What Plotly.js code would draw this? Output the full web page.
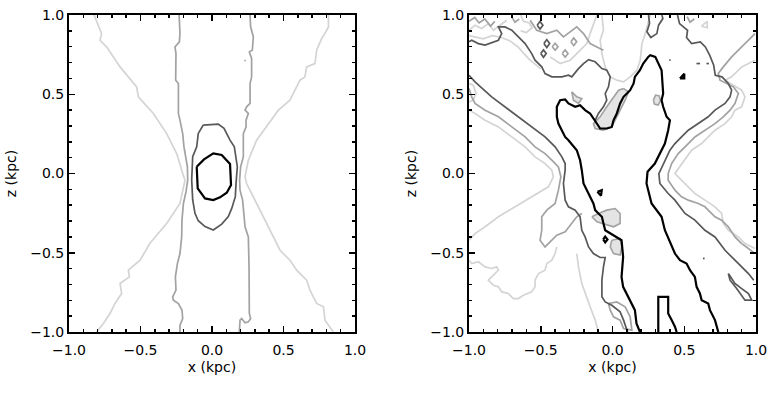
<!DOCTYPE html>
<html>
<head>
<meta charset="utf-8">
<script src="https://cdn.plot.ly/plotly-3.0.1.min.js"></script>
<style>
  html, body { margin: 0; padding: 0; background: #fff; }
  #chart { width: 777px; height: 396px; }
</style>
</head>
<body>
<div id="chart"></div>
<script>
// contour levels, darkest to lightest
const BLACK = '#000000';
const DARK = '#585858';
const MID = '#a2a2a2';
const LIGHT = '#d4d4d4';

// ---- left panel: [x, z] in kpc ----
const leftBlack = [[-0.107,0.043],[-0.056,0.089],[0.009,0.127],[0.068,0.117],[0.126,0.060],[0.133,-0.073],
  [0.103,-0.121],[0.056,-0.150],[0.009,-0.167],[-0.049,-0.157],[-0.100,-0.094],[-0.107,0.043]];
const leftDark = [[-0.061,0.306],[0.044,0.312],[0.084,0.285],[0.126,0.211],[0.156,0.169],[0.168,0.106],
  [0.177,0.043],[0.168,-0.062],[0.163,-0.146],[0.138,-0.220],[0.114,-0.272],[0.068,-0.319],[0.009,-0.356],
  [-0.049,-0.335],[-0.096,-0.298],[-0.119,-0.251],[-0.135,-0.167],[-0.142,-0.041],[-0.135,0.106],
  [-0.107,0.169],[-0.096,0.253],[-0.061,0.306]];
const leftMidL = [[-0.23,1.0],[-0.224,0.884],[-0.228,0.831],[-0.259,0.799],[-0.252,0.757],[-0.254,0.589],
  [-0.235,0.568],[-0.235,0.379],[-0.224,0.337],[-0.205,0.252],[-0.196,0.168],[-0.182,0.105],[-0.172,0.042],
  [-0.170,-0.042],[-0.182,-0.116],[-0.200,-0.189],[-0.210,-0.294],[-0.212,-0.400],[-0.224,-0.505],
  [-0.242,-0.568],[-0.256,-0.652],[-0.252,-0.736],[-0.275,-0.778],[-0.270,-0.799],[-0.235,-0.820],
  [-0.210,-0.862],[-0.205,-0.915],[-0.224,-0.957],[-0.224,-1.0]];
const leftMidR = [[0.266,1.0],[0.270,0.926],[0.289,0.862],[0.282,0.778],[0.261,0.768],[0.277,0.726],
  [0.277,0.610],[0.266,0.568],[0.266,0.442],[0.242,0.421],[0.231,0.400],[0.254,0.379],[0.238,0.337],
  [0.238,0.295],[0.219,0.252],[0.219,0.105],[0.200,0.042],[0.193,-0.042],[0.196,-0.105],[0.214,-0.168],
  [0.231,-0.336],[0.254,-0.400],[0.259,-0.589],[0.261,-0.883],[0.270,-0.915],[0.254,-0.936],[0.231,-0.942],
  [0.207,-0.915],[0.196,-0.925],[0.191,-1.0]];
const leftMidDot = [[0.226,0.715],[0.236,0.712]];
const leftLightL = [[-0.825,1.0],[-0.807,0.957],[-0.772,0.883],[-0.783,0.841],[-0.737,0.799],[-0.643,0.673],
  [-0.527,0.547],[-0.515,0.484],[-0.410,0.379],[-0.317,0.252],[-0.247,0.126],[-0.212,0.021],[-0.189,-0.042],
  [-0.224,-0.189],[-0.317,-0.315],[-0.434,-0.440],[-0.503,-0.547],[-0.585,-0.610],[-0.578,-0.652],
  [-0.643,-0.694],[-0.632,-0.757],[-0.678,-0.820],[-0.713,-0.883],[-0.760,-0.946],[-0.807,-1.0]];
const leftLightR = [[0.814,1.0],[0.814,0.925],[0.790,0.884],[0.767,0.852],[0.732,0.778],[0.720,0.694],
  [0.662,0.673],[0.650,0.610],[0.615,0.589],[0.545,0.463],[0.464,0.400],[0.382,0.294],[0.312,0.210],
  [0.254,0.084],[0.231,-0.021],[0.242,-0.063],[0.312,-0.189],[0.406,-0.358],[0.476,-0.484],[0.545,-0.547],
  [0.592,-0.610],[0.662,-0.673],[0.685,-0.736],[0.732,-0.820],[0.779,-0.841],[0.790,-0.925],[0.825,-0.967],
  [0.848,-1.0]];

// ---- right panel: [x, z] in kpc ----
const rBlackMain = [[0.191,-1.0],[0.167,-0.946],[0.156,-0.862],[0.109,-0.778],[0.074,-0.715],[0.063,-0.652],
  [0.074,-0.526],[0.063,-0.421],[-0.007,-0.379],[-0.051,-0.358],[-0.063,-0.315],[-0.074,-0.273],[-0.098,-0.252],
  [-0.121,-0.231],[-0.133,-0.189],[-0.167,-0.126],[-0.202,-0.063],[-0.214,0.021],[-0.226,0.084],[-0.249,0.147],
  [-0.284,0.189],[-0.307,0.210],[-0.330,0.231],[-0.353,0.273],[-0.377,0.315],[-0.388,0.358],[-0.388,0.421],
  [-0.365,0.463],[-0.330,0.467],[-0.307,0.442],[-0.260,0.421],[-0.226,0.431],[-0.191,0.400],[-0.156,0.379],
  [-0.133,0.347],[-0.109,0.315],[-0.086,0.284],[-0.040,0.284],[-0.005,0.294],[0.007,0.336],[0.030,0.379],
  [0.053,0.442],[0.077,0.484],[0.100,0.505],[0.123,0.526],[0.147,0.568],[0.156,0.610],[0.191,0.652],
  [0.214,0.694],[0.249,0.736],[0.263,0.747],[0.298,0.736],[0.319,0.694],[0.342,0.652],[0.353,0.505],
  [0.342,0.463],[0.353,0.421],[0.377,0.358],[0.400,0.336],[0.388,0.273],[0.365,0.189],[0.330,0.126],
  [0.295,0.063],[0.244,0.011],[0.237,-0.063],[0.272,-0.189],[0.342,-0.273],[0.365,-0.358],[0.412,-0.463],
  [0.435,-0.505],[0.470,-0.547],[0.516,-0.568],[0.540,-0.610],[0.574,-0.652],[0.586,-0.715],[0.609,-0.757],
  [0.621,-0.799],[0.667,-0.820],[0.679,-0.862],[0.714,-0.925],[0.737,-1.0]];
const rBlackU = [[0.319,-1.0],[0.319,-0.778],[0.388,-0.778],[0.388,-0.883],[0.412,-0.925],[0.435,-0.967],[0.447,-1.0]];
const rBlackTri = [[-0.105,-0.115],[-0.075,-0.105],[-0.080,-0.140],[-0.105,-0.115]];
const rBlackDiamond = [[-0.065,-0.416],[-0.051,-0.398],[-0.035,-0.416],[-0.051,-0.435],[-0.065,-0.416]];
const rBlackSpeck = [[0.47,0.600],[0.50,0.630],[0.50,0.600],[0.47,0.600]];

const rDarkTopA = [[0.251,1.0],[0.258,0.947],[0.240,0.894],[0.267,0.858],[0.309,0.883],[0.321,0.936],[0.351,0.978],[0.344,1.0]];
const rDarkRight = [[0.453,1.0],[0.467,0.946],[0.523,0.904],[0.516,0.858],[0.551,0.820],[0.612,0.831],[0.647,0.799],
  [0.677,0.747],[0.705,0.683],[0.716,0.620],[0.763,0.610],[0.807,0.568],[0.830,0.526],[0.819,0.484],[0.784,0.442],
  [0.714,0.400],[0.667,0.358],[0.598,0.315],[0.528,0.273],[0.481,0.231],[0.435,0.189],[0.400,0.147],[0.377,0.105],
  [0.353,0.063],[0.323,0.0],[0.330,-0.063],[0.388,-0.126],[0.435,-0.168],[0.505,-0.252],[0.574,-0.294],
  [0.644,-0.358],[0.714,-0.400],[0.784,-0.484],[0.853,-0.547],[0.900,-0.589],[0.947,-0.631],[0.984,-0.673]];
const rDarkLoop = [[0.807,-0.631],[0.853,-0.694],[0.900,-0.726],[0.947,-0.757],[0.970,-0.799],[0.923,-0.799],
  [0.865,-0.726],[0.819,-0.673],[0.807,-0.631]];
const rDarkLeft = [[-1.0,0.620],[-0.958,0.578],[-0.842,0.484],[-0.749,0.421],[-0.656,0.358],[-0.563,0.294],
  [-0.470,0.231],[-0.400,0.168],[-0.353,0.105],[-0.330,0.063],[-0.330,0.021],[-0.342,-0.063],[-0.330,-0.168],
  [-0.307,-0.210],[-0.260,-0.231],[-0.226,-0.273],[-0.214,-0.358],[-0.191,-0.400],[-0.167,-0.463],[-0.133,-0.505],
  [-0.086,-0.530],[-0.051,-0.530],[-0.063,-0.589],[-0.074,-0.673],[-0.074,-0.778],[-0.051,-0.810],[-0.005,-0.831],
  [0.053,-0.873],[0.077,-0.925],[0.105,-1.0]];
const rDarkTop = [[-1.0,0.831],[-0.981,0.841],[-0.935,0.820],[-0.888,0.810],[-0.795,0.841],[-0.772,0.883],
  [-0.795,0.925],[-0.749,0.925],[-0.702,0.904],[-0.656,0.862],[-0.609,0.820],[-0.563,0.757],[-0.540,0.715],
  [-0.493,0.673],[-0.470,0.631],[-0.423,0.610],[-0.353,0.610],[-0.307,0.620],[-0.284,0.610],[-0.237,0.662],
  [-0.202,0.694],[-0.167,0.719],[-0.121,0.705],[-0.074,0.662],[-0.040,0.652],[-0.016,0.610],[-0.028,0.547],
  [-0.051,0.505],[-0.040,0.463],[-0.063,0.421],[-0.098,0.379],[-0.121,0.336]];
const rDarkLoops = [
  [[-0.525,0.936],[-0.505,0.960],[-0.485,0.936],[-0.505,0.912],[-0.525,0.936]],
  [[-0.478,0.820],[-0.458,0.845],[-0.438,0.820],[-0.458,0.795],[-0.478,0.820]],
  [[-0.500,0.757],[-0.481,0.780],[-0.462,0.757],[-0.481,0.734],[-0.500,0.757]],
  [[0.630,-0.536],[0.642,-0.536]],
  [[0.395,0.715],[0.405,0.715]],
  [[0.585,0.694],[0.610,0.694]],
  [[0.655,0.694],[0.672,0.694]]
];

const rMidRight = [[0.993,0.883],[0.900,0.799],[0.830,0.736],[0.772,0.673],[0.737,0.631],[0.749,0.589],
  [0.842,0.547],[0.877,0.505],[0.853,0.442],[0.819,0.400],[0.772,0.358],[0.714,0.315],[0.644,0.273],
  [0.574,0.231],[0.528,0.189],[0.458,0.126],[0.412,0.063],[0.388,0.0],[0.388,-0.042],[0.435,-0.105],
  [0.481,-0.147],[0.528,-0.168],[0.598,-0.189],[0.644,-0.210],[0.667,-0.231],[0.714,-0.273],[0.760,-0.294],
  [0.807,-0.336],[0.853,-0.400],[0.900,-0.442],[0.947,-0.473],[0.993,-0.505]];
const rMidLeft = [[-1.0,0.536],[-0.981,0.484],[-0.958,0.442],[-0.888,0.400],[-0.795,0.358],[-0.702,0.294],
  [-0.609,0.231],[-0.540,0.168],[-0.470,0.126],[-0.423,0.084],[-0.377,0.042],[-0.360,-0.021],[-0.377,-0.105],
  [-0.400,-0.189],[-0.458,-0.231],[-0.493,-0.273],[-0.493,-0.358],[-0.505,-0.421],[-0.470,-0.463],
  [-0.435,-0.431],[-0.388,-0.389],[-0.330,-0.368],[-0.284,-0.315],[-0.249,-0.273],[-0.214,-0.252]];
const rMidTop = [[-0.574,0.967],[-0.528,0.904],[-0.458,0.883],[-0.388,0.904],[-0.342,0.862],[-0.295,0.894],
  [-0.249,0.925],[-0.202,0.883],[-0.156,0.820],[-0.109,0.799],[-0.063,0.778]];
const rMidTopLeft = [[-1.0,0.960],[-0.960,0.985],[-0.930,0.950],[-0.890,0.975],[-0.850,0.930],[-0.820,0.960]];
const rMidLoops = [
  [[-0.420,0.800],[-0.400,0.822],[-0.380,0.800],[-0.400,0.778],[-0.420,0.800]],
  [[-0.350,0.757],[-0.330,0.780],[-0.310,0.757],[-0.330,0.734],[-0.350,0.757]],
  [[-0.290,0.831],[-0.270,0.855],[-0.250,0.831],[-0.270,0.807],[-0.290,0.831]],
  [[-0.700,0.985],[-0.680,0.955],[-0.650,0.975]],
  [[0.520,0.990],[0.540,0.955],[0.570,0.975]]
];
const rMidBottom = [[-0.028,-0.820],[0.030,-0.810],[0.088,-0.841],[0.123,-0.904],[0.135,-0.988],[0.077,-0.978],
  [0.053,-0.925],[0.007,-0.904],[-0.016,-0.862],[-0.028,-0.820]];

const rLightRight = [[0.993,0.715],[0.900,0.673],[0.830,0.610],[0.784,0.589],[0.900,0.526],[0.923,0.484],
  [0.900,0.421],[0.853,0.400],[0.830,0.358],[0.784,0.315],[0.714,0.273],[0.621,0.189],[0.551,0.147],
  [0.481,0.063],[0.435,0.0],[0.458,-0.021],[0.505,-0.063],[0.574,-0.126],[0.644,-0.168],[0.714,-0.210],
  [0.760,-0.252],[0.772,-0.315],[0.807,-0.358],[0.877,-0.400],[0.923,-0.442],[0.993,-0.473]];
const rLightLeft = [[-1.0,0.400],[-0.958,0.379],[-0.888,0.336],[-0.795,0.294],[-0.702,0.231],[-0.609,0.168],
  [-0.540,0.105],[-0.470,0.063],[-0.423,0.021],[-0.412,-0.021],[-0.447,-0.084],[-0.563,-0.147],[-0.679,-0.210],
  [-0.795,-0.273],[-0.888,-0.336],[-0.958,-0.379],[-1.0,-0.421]];
const rLightEdge = [[-1.0,0.568],[-0.970,0.557],[-0.951,0.505],[-0.970,0.463],[-1.0,0.452]];
const rLightLow = [[-1.0,-0.547],[-0.981,-0.568],[-0.935,-0.557],[-0.888,-0.589],[-0.842,-0.599],[-0.807,-0.589],
  [-0.795,-0.610],[-0.842,-0.652],[-0.865,-0.673],[-0.830,-0.705],[-0.795,-0.715],[-0.772,-0.747],[-0.726,-0.757],
  [-0.691,-0.789],[-0.656,-0.789],[-0.621,-0.768],[-0.563,-0.747],[-0.540,-0.715],[-0.540,-0.673],[-0.516,-0.631],
  [-0.470,-0.610],[-0.458,-0.568],[-0.423,-0.547],[-0.400,-0.505],[-0.388,-0.463]];
const rLightStem = [[-0.249,-0.505],[-0.237,-0.589],[-0.214,-0.694],[-0.191,-0.757],[-0.156,-0.841],[-0.121,-0.925],[-0.098,-1.0]];
const rLightV = [[-0.074,1.0],[-0.063,0.904],[-0.086,0.841],[-0.074,0.757],[-0.051,0.673],[-0.016,0.610],
  [0.030,0.589],[0.077,0.578],[0.123,0.610],[0.170,0.652],[0.193,0.715],[0.205,0.820],[0.228,0.883],[0.251,0.967],[0.263,1.0]];
const rLightTop1 = [[-1.0,0.904],[-0.958,0.936],[-0.912,0.915],[-0.865,0.946],[-0.830,0.904],[-0.784,0.936],[-0.737,0.967]];
const rLightTop2 = [[-0.435,0.736],[-0.365,0.694],[-0.295,0.715],[-0.226,0.778],[-0.179,0.820],[-0.156,0.883],[-0.133,0.946],[-0.109,1.0]];
const rLightTop3 = [[-1.0,0.870],[-0.950,0.860],[-0.900,0.850],[-0.840,0.870],[-0.780,0.860],[-0.720,0.840],
  [-0.660,0.800],[-0.620,0.760],[-0.580,0.720],[-0.540,0.690],[-0.500,0.660]];
const rLightTop4 = [[-0.640,1.0],[-0.620,0.960],[-0.580,0.950],[-0.560,0.920],[-0.600,0.890],[-0.640,0.900]];
const rLightTri = [[0.620,0.930],[0.660,0.960],[0.660,0.920],[0.620,0.930]];

// blobs where several levels crowd together
const rBlobFinger = [[0.077,0.536],[0.112,0.515],[0.088,0.463],[0.053,0.400],[0.019,0.336],[-0.005,0.294],
  [-0.063,0.273],[-0.121,0.284],[-0.133,0.315],[-0.086,0.358],[-0.040,0.421],[0.007,0.484],[0.042,0.526],[0.077,0.536]];
const rBlobSmall = [[-0.284,0.515],[-0.249,0.484],[-0.214,0.473],[-0.237,0.442],[-0.272,0.463],[-0.284,0.515]];
const rBlobRound = [[0.285,0.463],[0.300,0.495],[0.325,0.490],[0.335,0.460],[0.318,0.432],[0.292,0.438],[0.285,0.463]];
const rBlobMid = [[-0.144,-0.273],[-0.098,-0.252],[-0.040,-0.231],[0.019,-0.221],[0.053,-0.252],[0.053,-0.315],
  [0.007,-0.336],[-0.063,-0.315],[-0.109,-0.305],[-0.144,-0.273]];
const rBlobLow = [[-0.005,-0.421],[0.053,-0.410],[0.065,-0.463],[0.053,-0.515],[0.007,-0.505],[-0.016,-0.463],[-0.005,-0.421]];

function join (lines) {
  const x = [];
  const y = [];
  lines.forEach((pts) => {
    pts.forEach((p) => { x.push(p[0]); y.push(p[1]); });
    x.push(null); y.push(null);
  });
  return { x, y };
}

function level (lines, color, width, axis) {
  const d = join(lines);
  return {
    type: 'scatter', mode: 'lines', x: d.x, y: d.y,
    xaxis: axis[0], yaxis: axis[1],
    line: { color, width, shape: 'linear' },
    connectgaps: false, hoverinfo: 'skip', showlegend: false
  };
}

function blob (pts, axis) {
  return {
    type: 'scatter', mode: 'lines', x: pts.map(p => p[0]), y: pts.map(p => p[1]),
    xaxis: axis[0], yaxis: axis[1], fill: 'toself', fillcolor: '#e4e4e4',
    line: { color: MID, width: 1.6 }, hoverinfo: 'skip', showlegend: false
  };
}

const A1 = ['x', 'y'];
const A2 = ['x2', 'y2'];

const data = [
  level([leftLightL, leftLightR], LIGHT, 1.7, A1),
  level([leftMidL, leftMidR, leftMidDot], MID, 1.7, A1),
  level([leftDark], DARK, 1.7, A1),
  level([leftBlack], BLACK, 2.2, A1),

  level([rLightRight, rLightLeft, rLightEdge, rLightLow, rLightStem, rLightV, rLightTop1, rLightTop2,
    rLightTop3, rLightTop4, rLightTri], LIGHT, 1.7, A2),
  blob(rBlobFinger, A2),
  blob(rBlobSmall, A2),
  blob(rBlobRound, A2),
  blob(rBlobMid, A2),
  blob(rBlobLow, A2),
  level([rMidRight, rMidLeft, rMidTop, rMidTopLeft, rMidBottom].concat(rMidLoops), MID, 1.7, A2),
  level([rDarkTopA, rDarkRight, rDarkLoop, rDarkLeft, rDarkTop].concat(rDarkLoops), DARK, 1.7, A2),
  level([rBlackMain, rBlackU, rBlackTri, rBlackDiamond, rBlackSpeck], BLACK, 2.2, A2)
];

const FONT = 'DejaVu Sans, Liberation Sans, Arial, sans-serif';

function xAxis (domain, anchor) {
  return {
    domain, anchor, range: [-1, 1],
    showgrid: false, zeroline: false,
    showline: true, linecolor: '#000', linewidth: 2, mirror: 'ticks',
    ticks: 'inside', ticklen: 6, tickwidth: 1.5, tickcolor: '#000',
    tick0: 0, dtick: 0.5, tickformat: '.1f', ticklabelstandoff: 4,
    minor: { dtick: 0.1, ticks: 'inside', ticklen: 3, tickwidth: 1.5, tickcolor: '#000' },
    tickfont: { family: FONT, size: 14, color: '#000' },
    title: { text: 'x (kpc)', font: { family: FONT, size: 14, color: '#000' }, standoff: 5 },
    automargin: false, fixedrange: true
  };
}

function yAxis (domain, anchor) {
  return {
    domain, anchor, range: [-1, 1],
    showgrid: false, zeroline: false,
    showline: true, linecolor: '#000', linewidth: 2, mirror: 'ticks',
    ticks: 'inside', ticklen: 6, tickwidth: 1.5, tickcolor: '#000',
    tick0: 0, dtick: 0.5, tickformat: '.1f',
    minor: { dtick: 0.1, ticks: 'inside', ticklen: 3, tickwidth: 1.5, tickcolor: '#000' },
    tickfont: { family: FONT, size: 14, color: '#000' },
    title: { text: 'z (kpc)', font: { family: FONT, size: 14, color: '#000' }, standoff: 10 },
    automargin: false, fixedrange: true
  };
}

const layout = {
  width: 777,
  height: 396,
  margin: { l: 0, r: 0, t: 0, b: 0 },
  paper_bgcolor: '#fff',
  plot_bgcolor: '#fff',
  showlegend: false,
  xaxis: xAxis([0.0888, 0.4569], 'y'),
  yaxis: yAxis([0.1616, 0.962], 'x'),
  xaxis2: xAxis([0.6036, 0.973], 'y2'),
  yaxis2: yAxis([0.1616, 0.962], 'x2')
};

Plotly.newPlot('chart', data, layout, { staticPlot: true, displayModeBar: false });
</script>
</body>
</html>
